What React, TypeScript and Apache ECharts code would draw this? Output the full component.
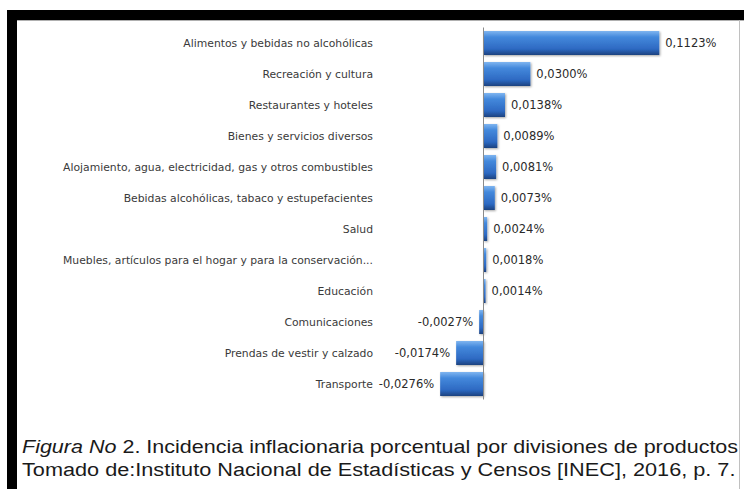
import React, { useEffect, useRef } from "react";
import * as echarts from "echarts";

const categories = [
  "Alimentos y bebidas no alcohólicas",
  "Recreación y cultura",
  "Restaurantes y hoteles",
  "Bienes y servicios diversos",
  "Alojamiento, agua, electricidad, gas y otros combustibles",
  "Bebidas alcohólicas, tabaco y estupefacientes",
  "Salud",
  "Muebles, artículos para el hogar y para la conservación...",
  "Educación",
  "Comunicaciones",
  "Prendas de vestir y calzado",
  "Transporte",
];

const values = [
  0.1123, 0.03, 0.0138, 0.0089, 0.0081, 0.0073, 0.0024, 0.0018, 0.0014, -0.0027,
  -0.0174, -0.0276,
];

const captionLine1Italic = "Figura No";
const captionLine1Rest = " 2. Incidencia inflacionaria porcentual por divisiones de productos";
const captionLine2 = "Tomado de:Instituto Nacional de Estadísticas y Censos [INEC], 2016, p. 7.";

const fmt = (v: number) => v.toFixed(4).replace(".", ",") + "%";

export default function App() {
  const ref = useRef<HTMLDivElement>(null);

  useEffect(() => {
    if (!ref.current) return;
    const chart = echarts.init(ref.current, null, { renderer: "svg" });

    const barColor = new echarts.graphic.LinearGradient(0, 0, 0, 1, [
      { offset: 0, color: "#7fb5f0" },
      { offset: 0.25, color: "#4489dc" },
      { offset: 0.75, color: "#2d69c2" },
      { offset: 1, color: "#1c427f" },
    ]);

    chart.setOption({
      animation: false,
      backgroundColor: "#ffffff",
      grid: { left: 380, right: 10, top: 27.5, bottom: 89.5, containLabel: false },
      xAxis: {
        type: "value",
        min: -0.066,
        max: 0.16,
        show: false,
        splitLine: { show: false },
      },
      yAxis: {
        type: "category",
        data: categories,
        inverse: true,
        axisLine: { show: false, onZero: false },
        axisTick: { show: false },
        axisLabel: {
          margin: 7,
          fontFamily: "DejaVu Sans",
          fontSize: 10.8,
          color: "#3a3a3a",
        },
      },
      series: [
        {
          type: "bar",
          barWidth: 24,
          data: values.map((v) => ({
            value: v,
            label: { position: v < 0 ? "left" : "right" },
          })),
          itemStyle: {
            color: barColor,
            shadowColor: "rgba(0,0,0,0.35)",
            shadowBlur: 2,
            shadowOffsetX: 1,
            shadowOffsetY: 1,
          },
          label: {
            show: true,
            distance: 6,
            fontFamily: "DejaVu Sans",
            fontSize: 11.5,
            color: "#2a2a2a",
            formatter: (p: any) => fmt(p.value),
          },
          markLine: {
            silent: true,
            symbol: "none",
            label: { show: false },
            lineStyle: { color: "#8a8a8a", width: 1, type: "solid" },
            data: [{ xAxis: 0 }],
          },
        },
      ],
      graphic: [
        { type: "rect", shape: { x: 7, y: 10, width: 737, height: 10 }, style: { fill: "#000" } },
        { type: "rect", shape: { x: 7, y: 10, width: 10, height: 479 }, style: { fill: "#000" } },
        {
          type: "line",
          shape: { x1: 17, y1: 20.5, x2: 744, y2: 20.5 },
          style: { stroke: "#b0b0b0", lineWidth: 1 },
        },
        {
          type: "line",
          shape: { x1: 739.5, y1: 20, x2: 739.5, y2: 489 },
          style: { stroke: "#c0c0c0", lineWidth: 1 },
        },
        {
          type: "text",
          x: 22,
          y: 447,
          scaleX: 1.195,
          style: {
            text: "{i|" + captionLine1Italic + "}{r|" + captionLine1Rest + "}",
            verticalAlign: "middle",
            rich: {
              i: {
                fontFamily: "Liberation Sans",
                fontSize: 18,
                fontStyle: "italic",
                fill: "#1a1a1a",
              },
              r: { fontFamily: "Liberation Sans", fontSize: 18, fill: "#1a1a1a" },
            },
          },
        },
        {
          type: "text",
          x: 22,
          y: 469.5,
          scaleX: 1.205,
          style: {
            text: captionLine2,
            verticalAlign: "middle",
            fontFamily: "Liberation Sans",
            fontSize: 18,
            fill: "#1a1a1a",
          },
        },
      ],
    });

    return () => chart.dispose();
  }, []);

  return (
    <div
      ref={ref}
      style={{ position: "fixed", left: 0, top: 0, width: 744, height: 489 }}
    />
  );
}
